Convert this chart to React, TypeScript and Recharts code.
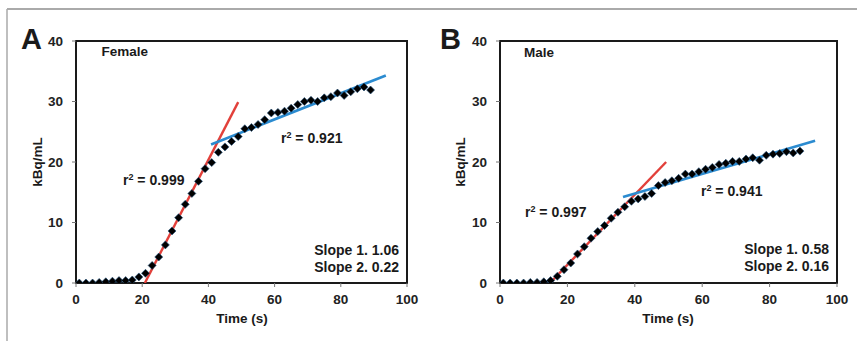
import React from "react";
import { ComposedChart, XAxis, YAxis, Scatter, Line, ReferenceArea } from "recharts";

const timeS = [1, 3, 5, 7, 9, 11, 13, 15, 17, 19, 21, 23, 25, 27, 29, 31, 33, 35, 37, 39, 41, 43, 45, 47, 49, 51, 53, 55, 57, 59, 61, 63, 65, 67, 69, 71, 73, 75, 77, 79, 81, 83, 85, 87, 89];
const femaleValues = [0, 0, 0, 0.1, 0.2, 0.3, 0.4, 0.4, 0.5, 1.0, 1.6, 2.9, 4.3, 6.3, 8.6, 10.8, 13.0, 14.8, 16.8, 18.9, 19.9, 21.6, 22.5, 23.4, 24.2, 25.5, 25.7, 26.2, 27.0, 28.1, 28.2, 28.4, 28.9, 29.5, 30.0, 30.2, 30.0, 30.6, 30.8, 31.4, 31.0, 31.6, 32.1, 32.4, 31.9];
const maleValues = [0, 0, 0, 0, 0.1, 0.1, 0.2, 0.4, 1.1, 2.2, 3.3, 4.8, 6.0, 7.4, 8.5, 9.5, 10.7, 11.7, 12.6, 13.5, 13.9, 14.3, 14.8, 16.1, 16.6, 16.9, 17.3, 18.0, 18.0, 18.4, 18.8, 19.1, 19.6, 19.8, 20.1, 20.1, 20.5, 20.7, 20.3, 21.1, 21.3, 21.4, 21.7, 21.5, 21.8];

const femaleFit1 = [{ x: 20.8, y: 0 }, { x: 49, y: 29.9 }];
const femaleFit2 = [{ x: 40.8, y: 22.9 }, { x: 93.6, y: 34.3 }];
const maleFit1 = [{ x: 15, y: 0.1 }, { x: 49.3, y: 20 }];
const maleFit2 = [{ x: 36.5, y: 14.2 }, { x: 93.5, y: 23.5 }];

const xTicks = [0, 20, 40, 60, 80, 100];
const yTicks = [0, 10, 20, 30, 40];

const FONT = "'Liberation Sans', Arial, sans-serif";
const RED = "#e2403a";
const BLUE = "#2b8bd0";

const femalePoints = timeS.map((t, i) => ({ x: t, y: femaleValues[i] }));
const malePoints = timeS.map((t, i) => ({ x: t, y: maleValues[i] }));

const Diamond = (props: any) => {
  const { cx, cy } = props;
  if (cx == null || cy == null) return null;
  const s = 4;
  return (
    <polygon
      points={`${cx},${cy - s} ${cx + s},${cy} ${cx},${cy + s} ${cx - s},${cy}`}
      fill="#000"
      stroke="#1f4f7a"
      strokeWidth={0.6}
    />
  );
};

const tickStyle = { fontFamily: FONT, fontSize: 13.5, fontWeight: 700, fill: "#222" };

function Panel(props: {
  points: { x: number; y: number }[];
  fit1: { x: number; y: number }[];
  fit2: { x: number; y: number }[];
  width: number;
  margin: { top: number; right: number; bottom: number; left: number };
}) {
  return (
    <ComposedChart width={props.width} height={341} margin={props.margin}>
      <XAxis
        dataKey="x"
        type="number"
        domain={[0, 100]}
        ticks={xTicks}
        height={30}
        axisLine={false}
        tickLine={{ stroke: "#777" }}
        tickSize={4}
        tickMargin={7}
        tick={tickStyle}
        interval={0}
        allowDataOverflow
      />
      <YAxis
        dataKey="y"
        type="number"
        domain={[0, 40]}
        ticks={yTicks}
        width={40}
        axisLine={false}
        tickLine={{ stroke: "#777" }}
        tickSize={4}
        tickMargin={9}
        tick={tickStyle}
        interval={0}
        allowDataOverflow
      />
      <ReferenceArea x1={0} x2={100} y1={0} y2={40} fill="none" stroke="#1a1a1a" strokeWidth={2} ifOverflow="visible" />
      <Line data={props.fit1} dataKey="y" stroke={RED} strokeWidth={2.4} dot={false} isAnimationActive={false} />
      <Line data={props.fit2} dataKey="y" stroke={BLUE} strokeWidth={2.6} dot={false} isAnimationActive={false} />
      <Scatter data={props.points} dataKey="y" shape={Diamond} isAnimationActive={false} />
    </ComposedChart>
  );
}

const txt = { fontFamily: FONT, fontWeight: 700, fill: "#1a1a1a" } as const;

export default function App() {
  return (
    <div style={{ position: "absolute", left: 0, top: 0, width: 857, height: 341, background: "#fff", overflow: "hidden" }}>
      <div style={{ position: "absolute", left: 0, top: 0 }}>
        <Panel points={femalePoints} fit1={femaleFit1} fit2={femaleFit2} width={430} margin={{ top: 41, right: 23, bottom: 28, left: 36 }} />
      </div>
      <div style={{ position: "absolute", left: 428, top: 0 }}>
        <Panel points={malePoints} fit1={maleFit1} fit2={maleFit2} width={429} margin={{ top: 41, right: 20, bottom: 28, left: 32 }} />
      </div>
      <svg width={857} height={341} style={{ position: "absolute", left: 0, top: 0, pointerEvents: "none" }}>
        <line x1={7} y1={9} x2={857} y2={9} stroke="#aaa" strokeWidth={2} />
        <line x1={7} y1={9} x2={7} y2={341} stroke="#aaa" strokeWidth={1.5} />

        <text x={21} y={49} style={{ ...txt, fontSize: 29 }} fill="#111">A</text>
        <text x={440} y={48.5} style={{ ...txt, fontSize: 29 }} fill="#111">B</text>

        <text x={101.5} y={56} style={{ ...txt, fontSize: 13.5 }}>Female</text>
        <text x={524} y={57} style={{ ...txt, fontSize: 13.5 }}>Male</text>

        <text x={123} y={185} style={{ ...txt, fontSize: 14 }}>r<tspan dy={-5} fontSize={9}>2</tspan><tspan dy={5}> = 0.999</tspan></text>
        <text x={281} y={142.5} style={{ ...txt, fontSize: 14 }}>r<tspan dy={-5} fontSize={9}>2</tspan><tspan dy={5}> = 0.921</tspan></text>
        <text x={525} y={217} style={{ ...txt, fontSize: 14 }}>r<tspan dy={-5} fontSize={9}>2</tspan><tspan dy={5}> = 0.997</tspan></text>
        <text x={701} y={196} style={{ ...txt, fontSize: 14 }}>r<tspan dy={-5} fontSize={9}>2</tspan><tspan dy={5}> = 0.941</tspan></text>

        <text x={399} y={255} textAnchor="end" style={{ ...txt, fontSize: 14 }}>Slope 1. 1.06</text>
        <text x={399} y={272} textAnchor="end" style={{ ...txt, fontSize: 14 }}>Slope 2. 0.22</text>
        <text x={829} y={253.5} textAnchor="end" style={{ ...txt, fontSize: 14 }}>Slope 1. 0.58</text>
        <text x={829} y={270.5} textAnchor="end" style={{ ...txt, fontSize: 14 }}>Slope 2. 0.16</text>

        <text x={242} y={323} textAnchor="middle" style={{ ...txt, fontSize: 13.5 }}>Time (s)</text>
        <text x={668} y={323} textAnchor="middle" style={{ ...txt, fontSize: 13.5 }}>Time (s)</text>

        <text transform="translate(42,162) rotate(-90)" textAnchor="middle" style={{ ...txt, fontSize: 13.5 }}>kBq/mL</text>
        <text transform="translate(464.5,162) rotate(-90)" textAnchor="middle" style={{ ...txt, fontSize: 13.5 }}>kBq/mL</text>
      </svg>
    </div>
  );
}
